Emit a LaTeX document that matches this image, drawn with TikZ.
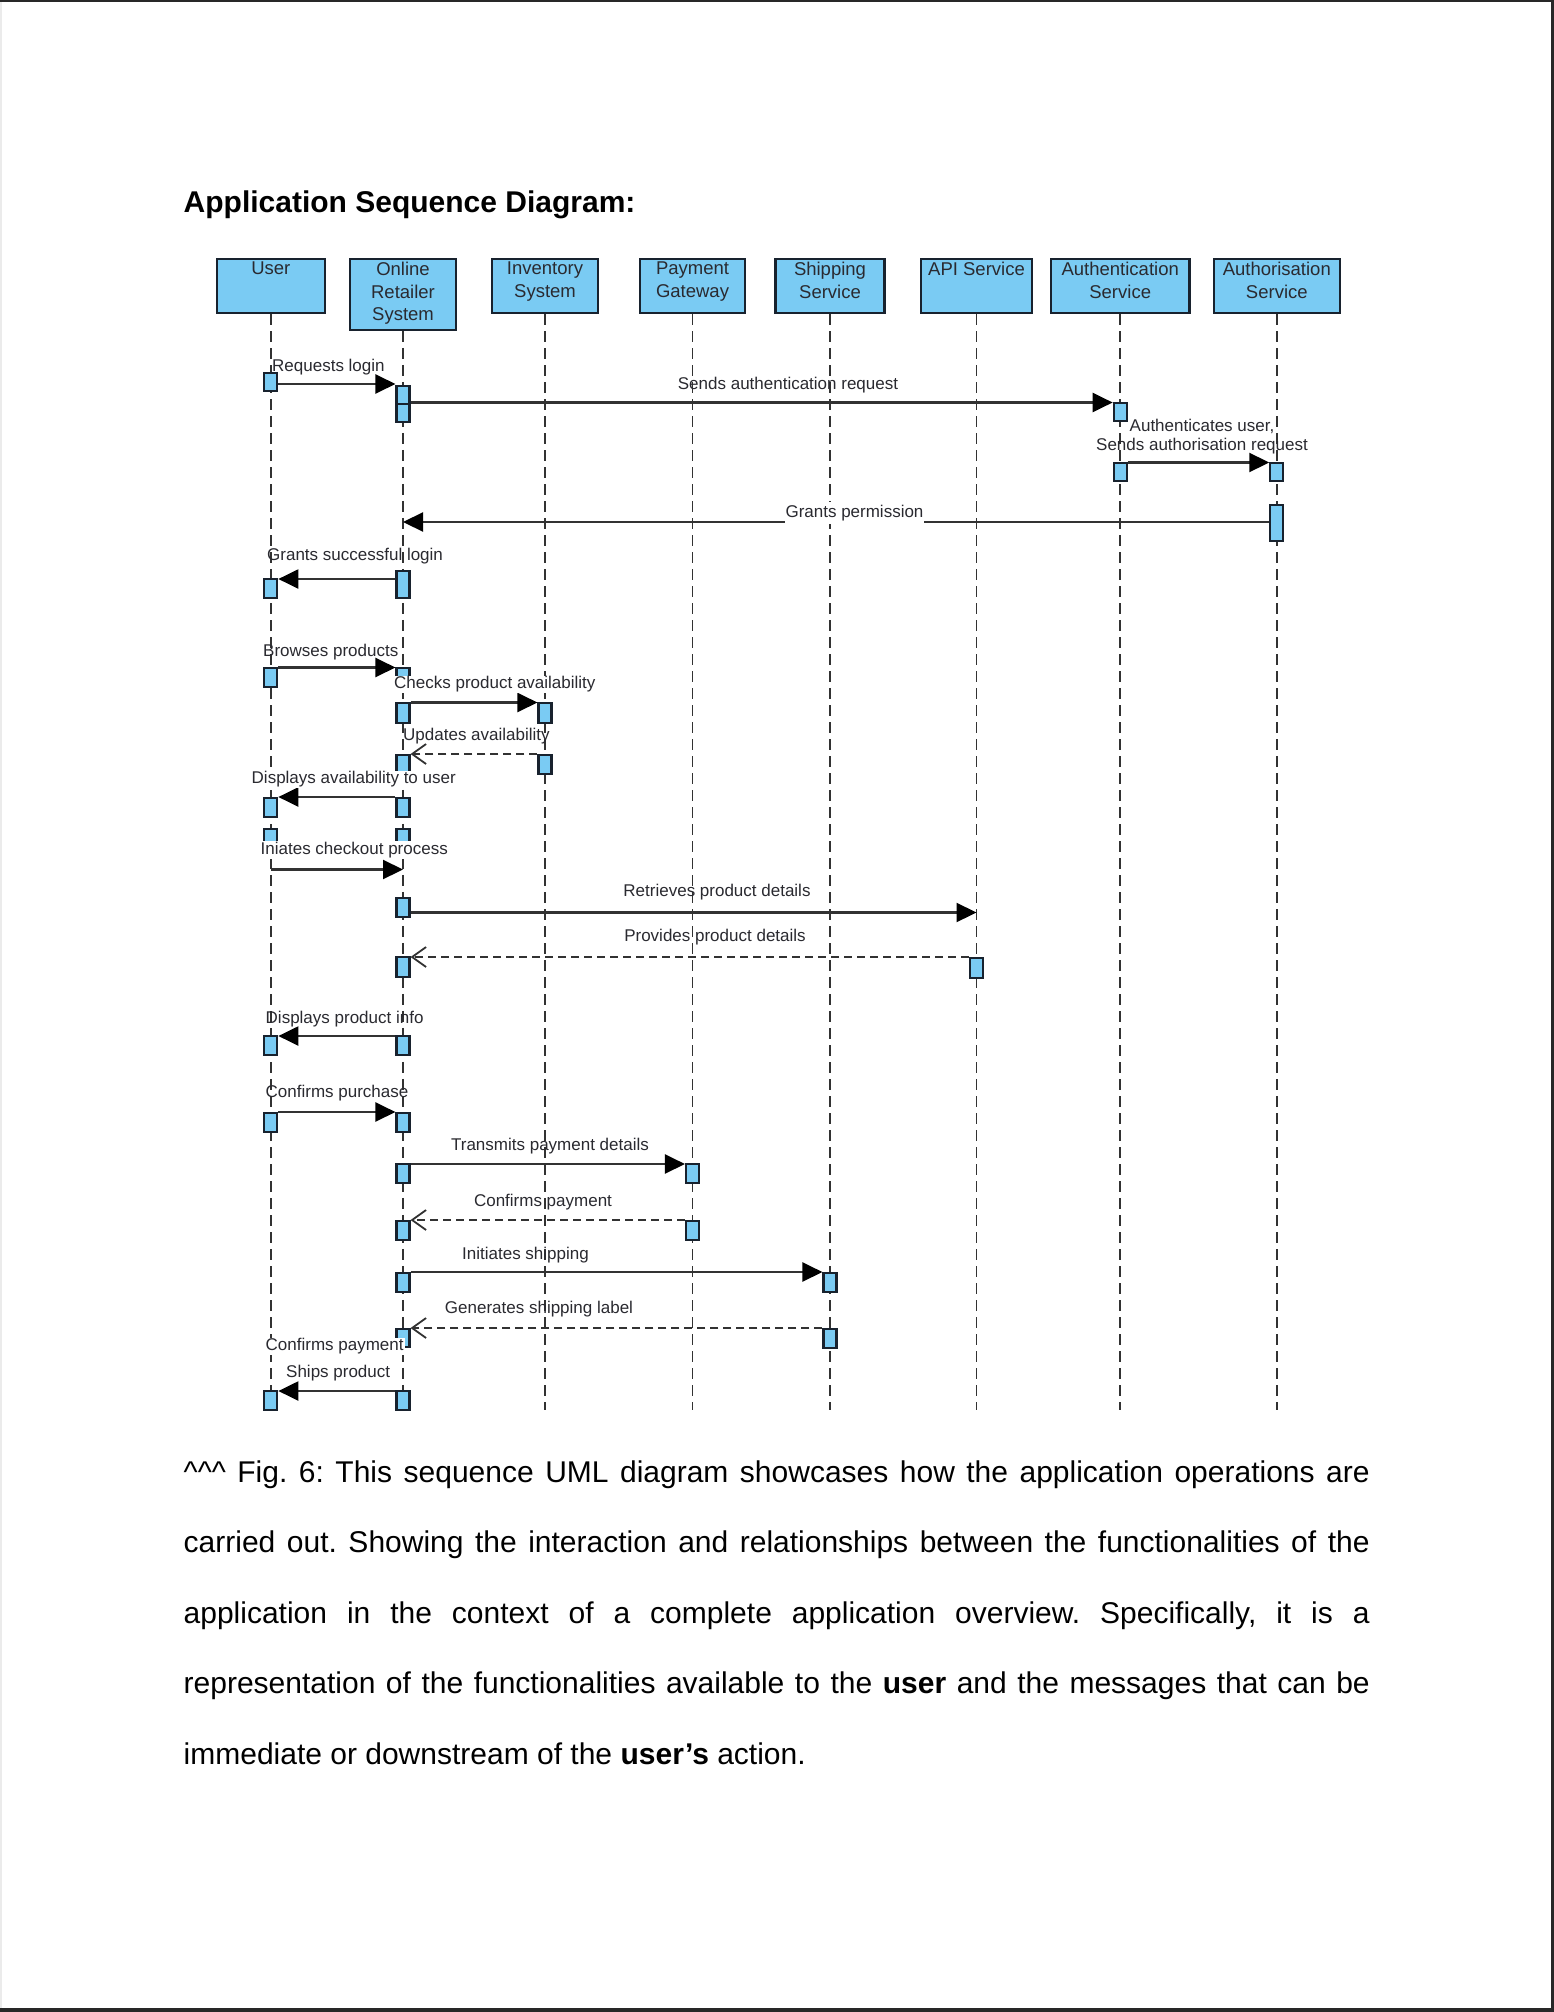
\documentclass[tikz,border=0pt]{standalone}
\usepackage{fontspec}
\setmainfont{Liberation Sans}
\usetikzlibrary{arrows.meta}
\definecolor{boxblue}{RGB}{122,203,243}
\definecolor{boxline}{RGB}{24,34,46}
\definecolor{linecol}{RGB}{50,50,50}
\definecolor{textcol}{RGB}{42,42,48}
\definecolor{framecol}{RGB}{40,40,40}
\frenchspacing

\begin{document}
\begin{tikzpicture}[x=1pt, y=-1pt,
    head/.style={draw=boxline, fill=boxblue, line width=2.4pt, anchor=north, minimum height=54pt, inner sep=0pt},
    headtext/.style={anchor=north, align=center, text=textcol, inner sep=1.5pt, yshift=-2.5pt, font=\fontsize{18.5}{22.5}\selectfont},
    life/.style={draw=linecol, line width=1.9pt, dash pattern=on 11pt off 6pt},
    act/.style={draw=boxline, fill=boxblue, line width=2.1pt, anchor=north, minimum width=13pt, inner sep=0pt},
    msg/.style={draw=linecol, line width=2.2pt, -{Triangle[length=20pt,width=19pt,color=black]}},
    reply/.style={draw=linecol, line width=2.2pt, dash pattern=on 8pt off 5pt, -{Straight Barb[length=14pt,width=20pt,line width=1.8pt]}},
    lbl/.style={text=textcol, inner sep=1pt, font=\fontsize{17}{19.5}\selectfont},
    cover/.style={lbl, fill=white},
    caption/.style={anchor=base west, inner sep=0pt, font=\fontsize{30}{36}\selectfont}
]
    % Page
    \useasboundingbox (0,0) rectangle (1554,2012);
    \fill[white] (0,0) rectangle (1554,2012);
    \fill[black!8] (0,0) rectangle (2,2012);
    \fill[framecol] (0,0) rectangle (1554,2);
    \fill[framecol] (1551,0) rectangle (1554,2012);
    \fill[framecol] (0,2008) rectangle (1554,2012);

    % Title
    \node[anchor=base west, inner sep=0pt, font=\fontsize{30}{36}\selectfont\bfseries] (title) at (183.5,212) {Application Sequence Diagram:};

    % Participants
    \node[head, minimum width=108pt, label={[headtext]north:User}] (user) at (270.8,258) {};
    \node[head, minimum width=106.5pt, minimum height=70.5pt, label={[headtext]north:{Online\\Retailer\\System}}] (online) at (403,258) {};
    \node[head, minimum width=106.5pt, label={[headtext]north:{Inventory\\System}}] (inventory) at (545,258) {};
    \node[head, minimum width=105.5pt, label={[headtext]north:{Payment\\Gateway}}] (payment) at (692.5,258) {};
    \node[head, minimum width=109pt, label={[headtext]north:{Shipping\\Service}}] (shipping) at (830,258) {};
    \node[head, minimum width=110.5pt, label={[headtext]north:API Service}] (api) at (976.5,258) {};
    \node[head, minimum width=138.5pt, label={[headtext]north:{Authentication\\Service}}] (authn) at (1120.2,258) {};
    \node[head, minimum width=126pt, label={[headtext]north:{Authorisation\\Service}}] (authz) at (1276.8,258) {};

    % Lifelines
    \foreach \l in {user,online,inventory,payment,shipping,api,authn,authz} {
        \draw[life] (\l.south) -- (\l |- 0,1410);
    }

    % Activation boxes
    \foreach \n/\l/\y/\h in {u1/user/372/18pt, o1/online/384.5/18pt, o1b/online/402.5/18pt,
        a1/authn/402/18pt, a2/authn/462/18pt, z1/authz/462/18pt, z2/authz/504/36pt,
        u2/user/578/19pt, o2/online/570/27pt,
        u3/user/667/19pt, o3/online/667/18pt,
        o4/online/702/19.5pt, i1/inventory/702/19.5pt,
        i2/inventory/754/19pt, o5/online/754/18pt,
        u4/user/797/19pt, o6/online/797/19pt,
        u5/user/828/14pt, o6b/online/828/14pt,
        o7/online/897/19pt, api1/api/957/19.5pt, o8/online/956/20pt,
        u6/user/1035/19pt, o9/online/1035/19pt,
        u7/user/1111.5/19pt, o10/online/1111.5/19pt,
        o11/online/1163/18.5pt, p1/payment/1163/18.5pt,
        o12/online/1219.5/19pt, p2/payment/1219.5/19pt,
        o13/online/1272/19pt, s1/shipping/1272/19pt,
        s2/shipping/1328/19pt, o14/online/1328/18pt,
        u8/user/1390/19pt, o15/online/1390/19pt} {
        \node[act, minimum height=\h] (\n) at (\l |- 0,\y) {};
    }

    % Free ends
    \coordinate (gp) at (online |- 0,522);
    \coordinate (ic1) at (user |- 0,869.5);
    \coordinate (ic2) at (online |- 0,869.5);
    \coordinate (rp) at (api |- 0,912.5);

    % Messages
    \draw[msg] (u1.east |- 0,384) -- (o1.west |- 0,384);
    \draw[msg] (o1.east |- 0,402.5) -- (a1.west |- 0,402.5);
    \draw[msg] (a2.east |- 0,462.5) -- (z1.west |- 0,462.5);
    \draw[msg] (z2.west |- 0,522) -- (gp);
    \draw[msg] (o2.west |- 0,579) -- (u2.east |- 0,579);
    \draw[msg] (u3.east |- 0,667.5) -- (o3.west |- 0,667.5);
    \draw[msg] (o4.east |- 0,702.5) -- (i1.west |- 0,702.5);
    \draw[reply] (i2.west |- 0,754) -- (o5.east |- 0,754);
    \draw[msg] (o6.west |- 0,797) -- (u4.east |- 0,797);
    \draw[msg] (ic1) -- (ic2);
    \draw[msg] (o7.east |- 0,912.5) -- (rp);
    \draw[reply] (api1.west |- 0,957) -- (o8.east |- 0,957);
    \draw[msg] (o9.west |- 0,1036) -- (u6.east |- 0,1036);
    \draw[msg] (u7.east |- 0,1112) -- (o10.west |- 0,1112);
    \draw[msg] (o11.east |- 0,1164) -- (p1.west |- 0,1164);
    \draw[reply] (p2.west |- 0,1220) -- (o12.east |- 0,1220);
    \draw[msg] (o13.east |- 0,1272) -- (s1.west |- 0,1272);
    \draw[reply] (s2.west |- 0,1328) -- (o14.east |- 0,1328);
    \draw[msg] (o15.west |- 0,1391) -- (u8.east |- 0,1391);

    % Labels
    \node[lbl, anchor=west] (l1) at (271,367) {Requests login};
    \node[lbl] (l2) at (788,385) {Sends authentication request};
    \node[lbl, align=center] (l3) at (1202,436.5) {Authenticates user,\\Sends authorisation request};
    \node[cover, inner ysep=3pt] (l4) at (854.5,513) {Grants permission};
    \node[lbl, anchor=west] (l5) at (266,556) {Grants successful login};
    \node[lbl, anchor=west] (l6) at (262,652.5) {Browses products};
    \node[cover, anchor=west] (l7) at (393,684.5) {Checks product availability};
    \node[lbl, anchor=west] (l8) at (402,736) {Updates availability};
    \node[cover, anchor=west] (l9) at (250.5,779.5) {Displays availability to user};
    \node[cover, anchor=west] (l10) at (259.5,850) {Iniates checkout process};
    \node[lbl] (l11) at (717,892) {Retrieves product details};
    \node[lbl] (l12) at (715,937) {Provides product details};
    \node[lbl, anchor=west] (l13) at (264.5,1019) {Displays product info};
    \node[lbl, anchor=west] (l14) at (264.5,1093.5) {Confirms purchase};
    \node[lbl] (l15) at (550,1146) {Transmits payment details};
    \node[lbl] (l16) at (543,1202.5) {Confirms payment};
    \node[lbl] (l17) at (525.5,1255) {Initiates shipping};
    \node[lbl] (l18) at (539,1309) {Generates shipping label};
    \node[cover, anchor=west] (l19) at (264.5,1346.5) {Confirms payment};
    \node[lbl, anchor=west] (l20) at (285,1373.5) {Ships product};

    % Caption
    \node[caption] (cap1) at (183.5,1482) {\makebox[1186pt][s]{\textasciicircum\textasciicircum\textasciicircum{} Fig. 6: This sequence UML diagram showcases how the application operations are}};
    \node[caption] (cap2) at (183.5,1552.5) {\makebox[1186pt][s]{carried out. Showing the interaction and relationships between the functionalities of the}};
    \node[caption] (cap3) at (183.5,1623) {\makebox[1186pt][s]{application in the context of a complete application overview. Specifically, it is a}};
    \node[caption] (cap4) at (183.5,1693.5) {\makebox[1186pt][s]{representation of the functionalities available to the \textbf{user} and the messages that can be}};
    \node[caption] (cap5) at (183.5,1764) {immediate or downstream of the \textbf{user’s} action.};
\end{tikzpicture}
\end{document}
